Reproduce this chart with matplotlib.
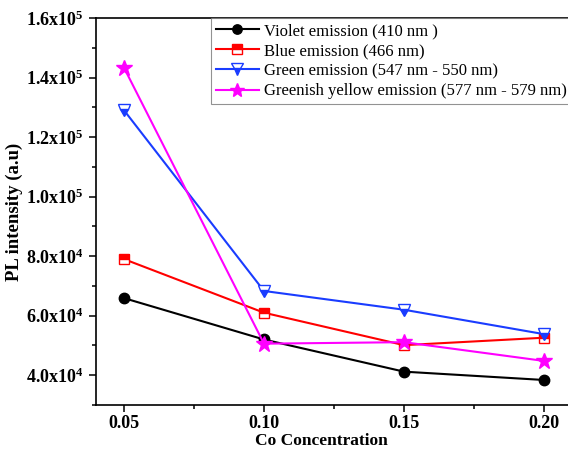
import matplotlib
matplotlib.use("Agg")
import matplotlib.pyplot as plt
from matplotlib.ticker import FixedLocator, FuncFormatter, MultipleLocator

plt.rcParams['font.family'] = ['Liberation Serif', 'DejaVu Serif']
plt.rcParams['mathtext.fontset'] = 'custom'
plt.rcParams['mathtext.rm'] = 'Liberation Serif:bold'
plt.rcParams['mathtext.default'] = 'rm'

# data
co_conc = [0.05, 0.10, 0.15, 0.20]
violet = [65900, 52000, 41200, 38400]
blue = [79000, 61000, 50100, 52600]
green = [129000, 68300, 62000, 53800]
greenish_yellow = [143300, 50600, 51100, 44800]

labels = ['Violet emission (410 nm )', 'Blue emission (466 nm)',
          'Green emission (547 nm - 550 nm)', 'Greenish yellow emission (577 nm - 579 nm)']
yticks = [40000, 60000, 80000, 100000, 120000, 140000, 160000]
xticks = [0.05, 0.10, 0.15, 0.20]


def sci_fmt(v, pos):
    exp = len(str(int(v))) - 1
    mant = v / 10 ** exp
    return r'$%.1f\mathrm{x}10^{%d}$' % (mant, exp)


fig = plt.figure(figsize=(5.68, 4.49), dpi=100)
ax = fig.add_axes([0.169, 0.098, 0.838, 0.862])

ax.plot(co_conc, violet, color='black', lw=1.5, marker='o', ms=7.5,
        mfc='black', mec='black', label=labels[0])
ax.plot(co_conc, blue, color='red', lw=1.5, marker='s', ms=7.5,
        fillstyle='top', mfc='red', mfcalt='white', mec='red', label=labels[1])
ax.plot(co_conc, green, color='#1a3cff', lw=1.5, marker='v', ms=9,
        fillstyle='bottom', mfc='#1a3cff', mfcalt='white', mec='#1a3cff', label=labels[2])
ax.plot(co_conc, greenish_yellow, color='#ff00ff', lw=1.5, marker='*', ms=12,
        mfc='#ff00ff', mec='#ff00ff', label=labels[3])

ax.set_xlim(0.04, 0.21)
ax.set_ylim(30000, 160000)
ax.xaxis.set_major_locator(FixedLocator(xticks))
ax.xaxis.set_minor_locator(MultipleLocator(0.025))
ax.xaxis.set_major_formatter(FuncFormatter(lambda v, p: '%.2f' % v))
ax.yaxis.set_major_locator(FixedLocator(yticks))
ax.yaxis.set_minor_locator(MultipleLocator(10000))
ax.yaxis.set_major_formatter(FuncFormatter(sci_fmt))

ax.tick_params(which='both', direction='out', top=False, right=False,
               labelsize=13, width=1.1)
ax.tick_params(which='major', length=5, pad=4)
ax.tick_params(axis='x', which='major', pad=2.5)
ax.tick_params(which='minor', length=3)
for lab in ax.get_xticklabels() + ax.get_yticklabels():
    lab.set_fontweight('bold')
for s in ax.spines.values():
    s.set_linewidth(1.2)

ax.set_xlabel('Co Concentration', fontsize=12.5, fontweight='bold')
ax.xaxis.set_label_coords(0.473, -0.073)
ax.set_ylabel('PL intensity (a.u)', fontsize=13.5, fontweight='bold', labelpad=2)

leg = ax.legend(loc='upper right', bbox_to_anchor=(1.0, 1.0), borderaxespad=0,
                fontsize=12, fancybox=False, edgecolor='#777777',
                handlelength=2.6, handletextpad=0.3, labelspacing=0.25,
                borderpad=0.3, markerscale=0.9)
leg.get_frame().set_linewidth(0.8)

fig.savefig('out.png', dpi=100)
